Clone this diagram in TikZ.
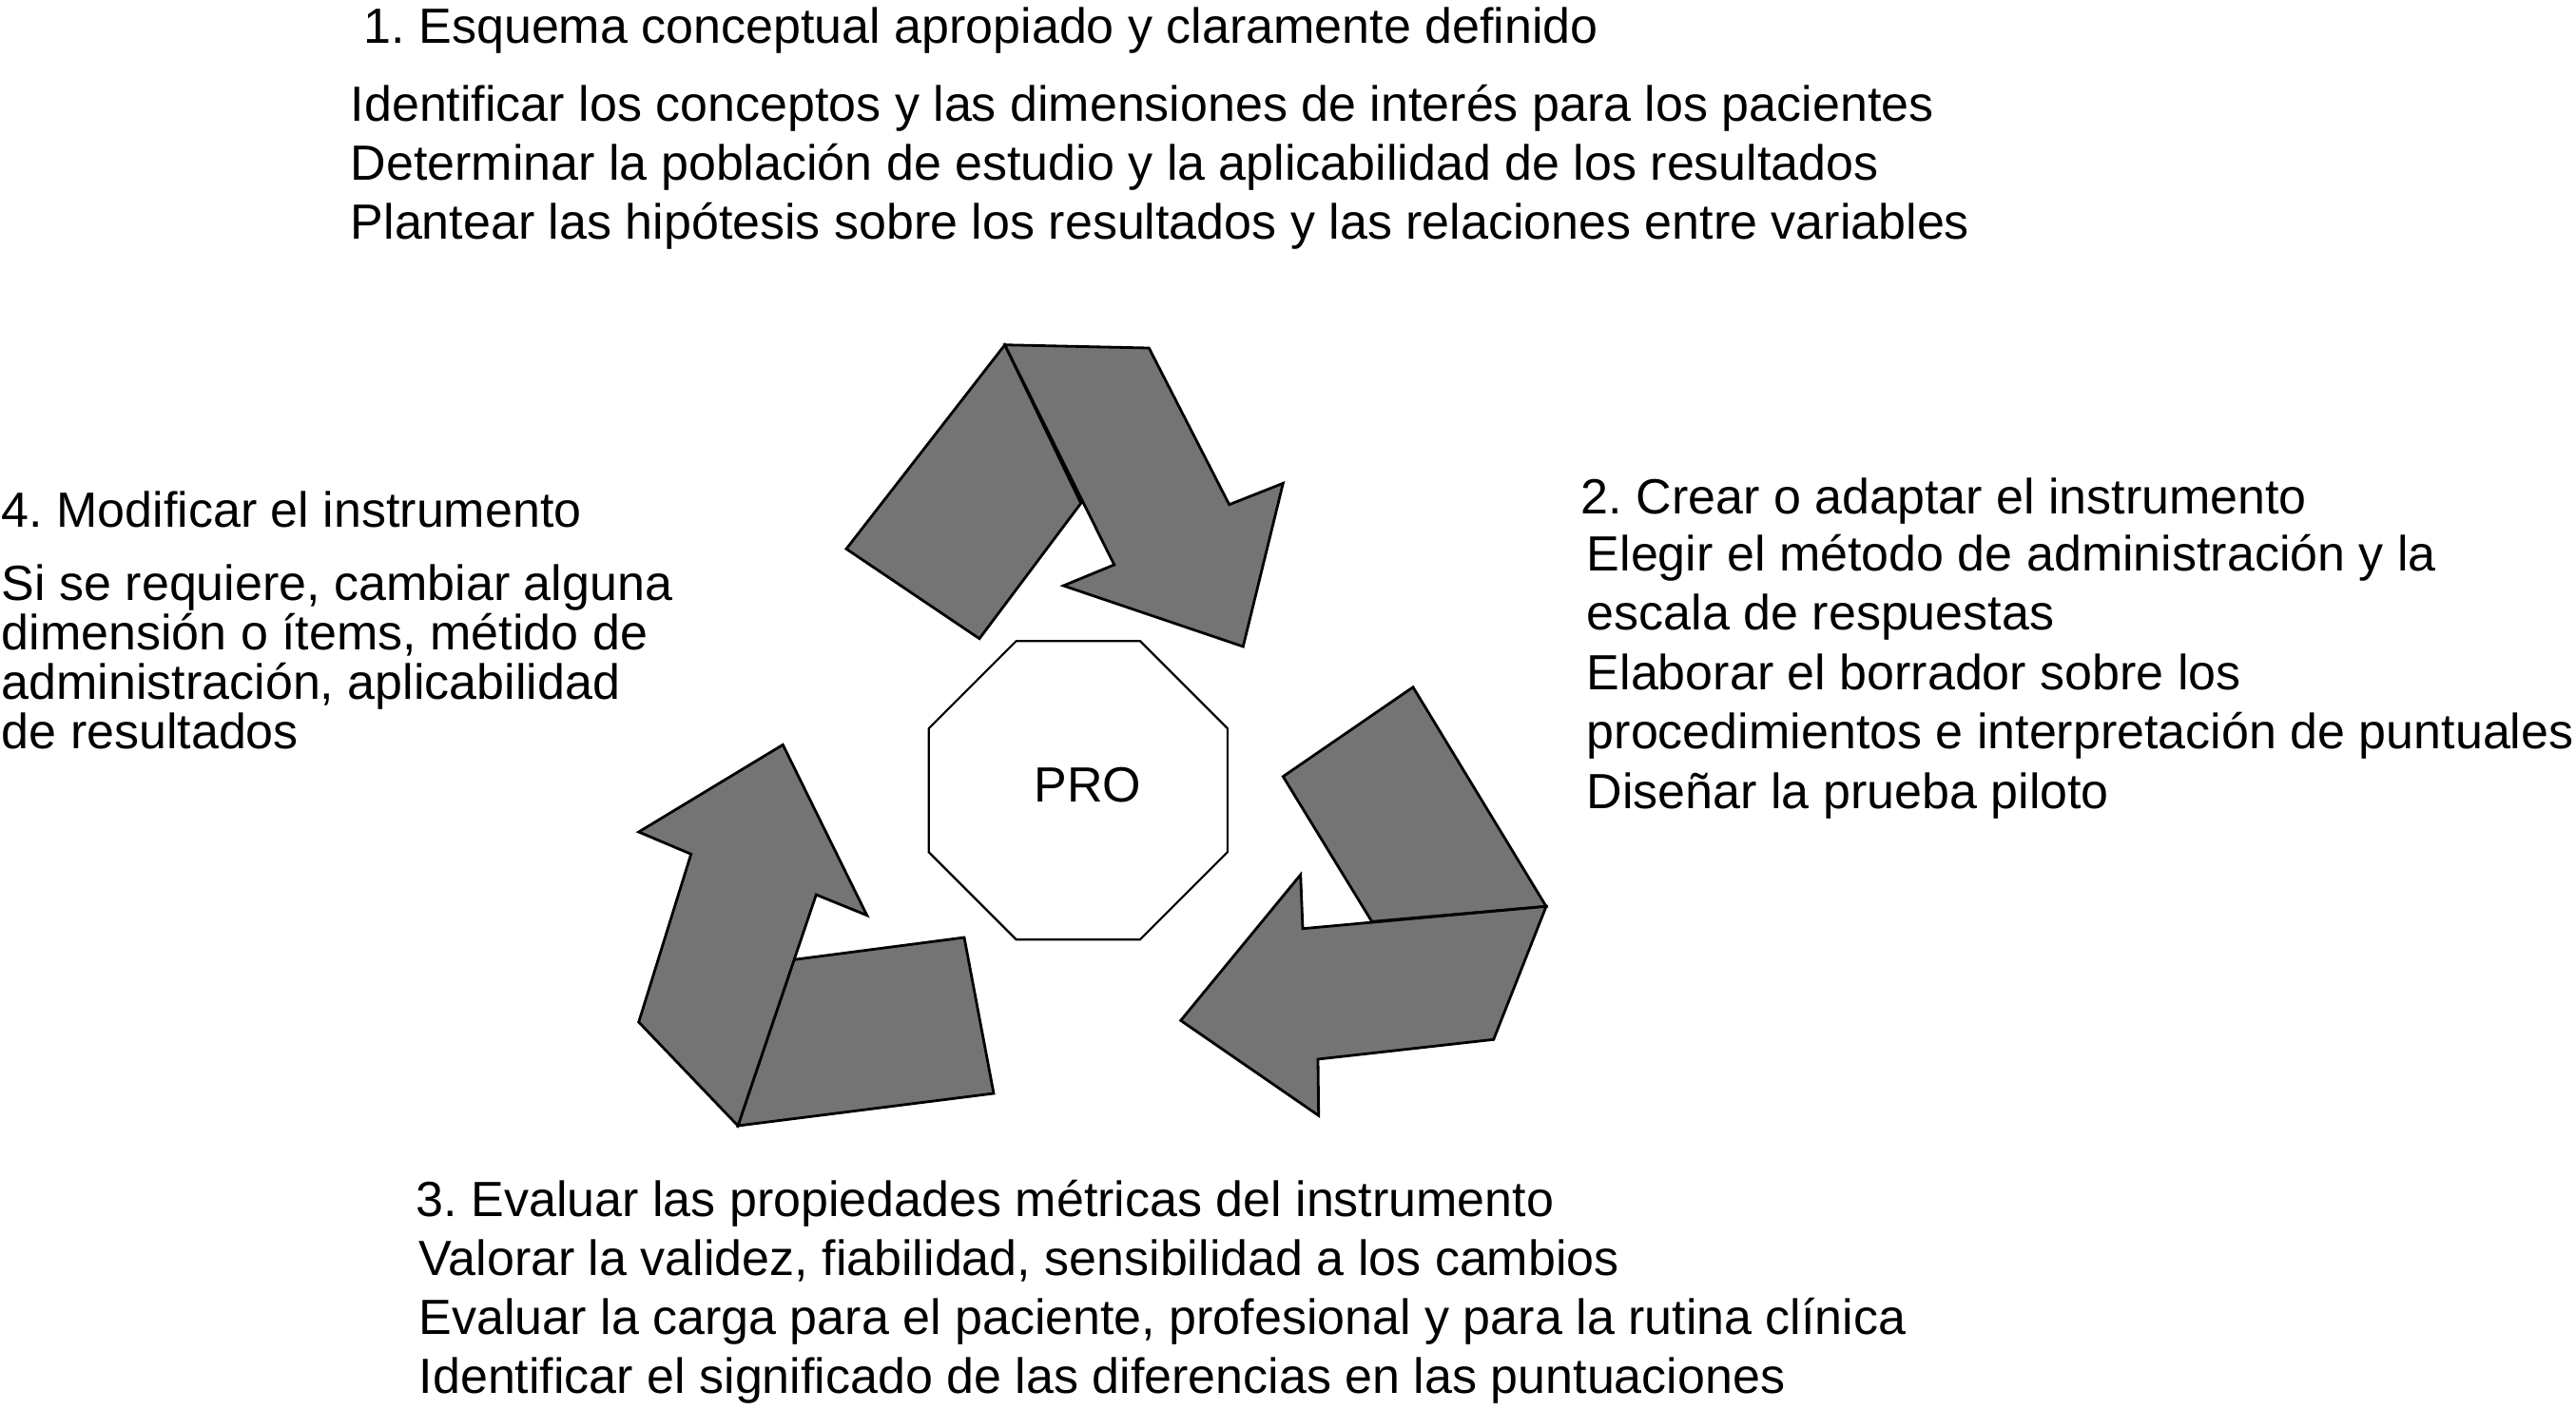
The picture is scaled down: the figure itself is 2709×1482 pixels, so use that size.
\documentclass[tikz,border=0pt]{standalone}
\usepackage{fontspec}
\setmainfont{Liberation Sans}
\usetikzlibrary{shapes.geometric}
\definecolor{BladeGray}{HTML}{747474}
\frenchspacing

\begin{document}
\begin{tikzpicture}[
      x = 0.25pt, y = -0.25pt,
      font = \fontsize{13pt}{15.5pt}\selectfont,
      line/.style={
        anchor = base west,
        inner sep = 0pt,
      },
      blade/.style={
        draw = black,
        fill = BladeGray,
        line width = 0.7pt,
      },
      hub/.style={
        draw = black,
        fill = white,
        regular polygon,
        regular polygon sides = 8,
        minimum size = 85pt,
        inner sep = 0pt,
        line width = 0.55pt,
      },
    ]
    \useasboundingbox (0,0) rectangle (2709,1482);

    % top blade
    \draw[blade] (1056.7,362.7) -- (890,577.3) -- (1030,671.7)
      -- (1136.7,529.3) -- cycle;
    \draw[blade] (1056.7,362.7) -- (1208.3,366) -- (1292.7,530.7)
      -- (1349.3,508.3) -- (1307.3,680) -- (1118.3,616)
      -- (1171.7,594) -- cycle;
    % right blade
    \draw[blade] (1486,722.7) -- (1349.3,816.7) -- (1442.7,969.3)
      -- (1626,953.3) -- cycle;
    \draw[blade] (1626,953.3) -- (1570.7,1093.3) -- (1386,1114)
      -- (1386.7,1173.3) -- (1241.7,1073.3) -- (1367.7,920)
      -- (1370,976.7) -- cycle;
    % left blade
    \draw[blade] (835,1009.3) -- (1014,986) -- (1045,1150)
      -- (776,1184) -- cycle;
    \draw[blade] (823.3,783.3) -- (911.7,962.7) -- (858.3,941)
      -- (776,1184) -- (671.7,1075) -- (726.7,898.3)
      -- (671.7,875) -- cycle;

    \node[hub, label={[xshift=2.5pt, yshift=1.3pt]center:PRO}] (pro)
      at (1133.8,831.2) {};

    % 1
    \node[line] (h1) at (382,45)
      {1. Esquema conceptual apropiado y claramente definido};
    \foreach \txt [count=\i from 0] in {
        {Identificar los conceptos y las dimensiones de interés para los pacientes},
        {Determinar la población de estudio y la aplicabilidad de los resultados},
        {Plantear las hipótesis sobre los resultados y las relaciones entre variables}}
      \node[line] (s1-\i) at (368,{127+62*\i}) {\txt};

    % 2
    \node[line] (h2) at (1662,540) {2. Crear o adaptar el instrumento};
    \foreach \txt [count=\i from 0] in {
        {Elegir el método de administración y la},
        {escala de respuestas},
        {Elaborar el borrador sobre los},
        {procedimientos e interpretación de puntuales},
        {Diseñar la prueba piloto}}
      \node[line] (s2-\i) at (1668,{600+62.5*\i}) {\txt};

    % 3
    \node[line] (h3) at (437,1279)
      {3. Evaluar las propiedades métricas del instrumento};
    \foreach \txt [count=\i from 0] in {
        {Valorar la validez, fiabilidad, sensibilidad a los cambios},
        {Evaluar la carga para el paciente, profesional y para la rutina clínica},
        {Identificar el significado de las diferencias en las puntuaciones}}
      \node[line] (s3-\i) at (440,{1341+62*\i}) {\txt};

    % 4
    \node[line] (h4) at (1,554) {4. Modificar el instrumento};
    \foreach \txt [count=\i from 0] in {
        {Si se requiere, cambiar alguna},
        {dimensión o ítems, métido de},
        {administración, aplicabilidad},
        {de resultados}}
      \node[line] (s4-\i) at (1,{631+52*\i}) {\txt};
  \end{tikzpicture}
\end{document}
